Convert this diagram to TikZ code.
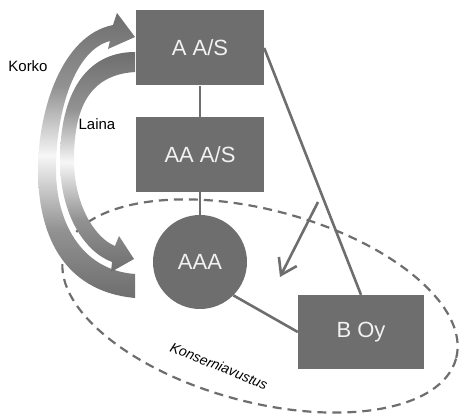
\documentclass[tikz,border=0pt]{standalone}
\usepackage{fontspec}
\setmainfont{Liberation Sans}
\usetikzlibrary{arrows.meta}
\definecolor{dg}{HTML}{6E6E6E}
\definecolor{lg}{HTML}{F2F2F2}
\colorlet{dgm}{dg!75!white}
\colorlet{dgw}{dg!6!white}
\pgfdeclareverticalshading{bandshade}{100bp}{color(0bp)=(dg); color(25bp)=(dg); color(37bp)=(dgm); color(50bp)=(dgw); color(62bp)=(dgm); color(75bp)=(dg); color(100bp)=(dg)}
\tikzset{
  box/.style={draw=none, fill=dg, text=lg, minimum width=128pt, minimum height=75pt, inner sep=0pt, font=\fontsize{22}{22}\selectfont},
  circ/.style={circle, draw=none, fill=dg, text=lg, minimum size=94pt, inner sep=0pt, font=\fontsize{22}{22}\selectfont},
  conn/.style={draw=dg, line width=2.6pt},
  dashline/.style={draw=dg, line width=2.2pt, dash pattern=on 9pt off 6pt},
  lbl/.style={text=black, inner sep=0pt, font=\fontsize{15}{15}\selectfont},
  band/.style={shading=bandshade, draw=none}
}
\begin{document}
\begin{tikzpicture}[x=1pt, y=-1pt]
\useasboundingbox (0,0) rectangle (459,414);
% group contribution ellipse
\draw[dashline, rotate around={-15:(260,306)}] (260,306) ellipse [x radius=203, y radius=96];
% Korko band (outer)
\shade[band] (135,298) .. controls (60,291) and (38,230) .. (38,170)
  .. controls (38,110) and (62,35) .. (113,25) -- (117,13) -- (135,37) -- (108,49) -- (110,41)
  .. controls (75,50) and (56,110) .. (56,170)
  .. controls (56,220) and (80,270) .. (135,274) -- cycle;
% Laina band (inner)
\shade[band] (135,52) .. controls (85,52) and (60,95) .. (60,160)
  .. controls (60,215) and (85,252) .. (112,262) -- (111,272) -- (134,259) -- (119,236) -- (115,246)
  .. controls (95,238) and (74,205) .. (74,160)
  .. controls (74,115) and (85,75) .. (135,72) -- cycle;
% nodes
\node[box] (aas) at (200,48) {A A/S};
\node[box] (aaas) at (200,154.5) {AA A/S};
\node[circ] (aaa) at (200,262) {AAA};
\node[box, minimum width=126pt, minimum height=74pt] (boy) at (361,332) {B Oy};
% connectors
\draw[conn] (aas) -- (aaas);
\draw[conn] (aaas) -- (aaa);
\draw[conn] (aas.east) -- (boy.north);
\draw[conn] (aaa.-45) -- (boy.west);
\coordinate (ast) at (318,202);
\coordinate (aen) at (280,277);
\draw[conn, -{Straight Barb[length=15pt, width=20pt]}] (ast) -- (aen);
% labels
\node[lbl] (korko) at (28,66) {Korko};
\node[lbl] (laina) at (97,124) {Laina};
\node[lbl, rotate=-22, font=\fontsize{14}{14}\selectfont\itshape] (kons) at (219,366) {Konserniavustus};
\end{tikzpicture}
\end{document}
